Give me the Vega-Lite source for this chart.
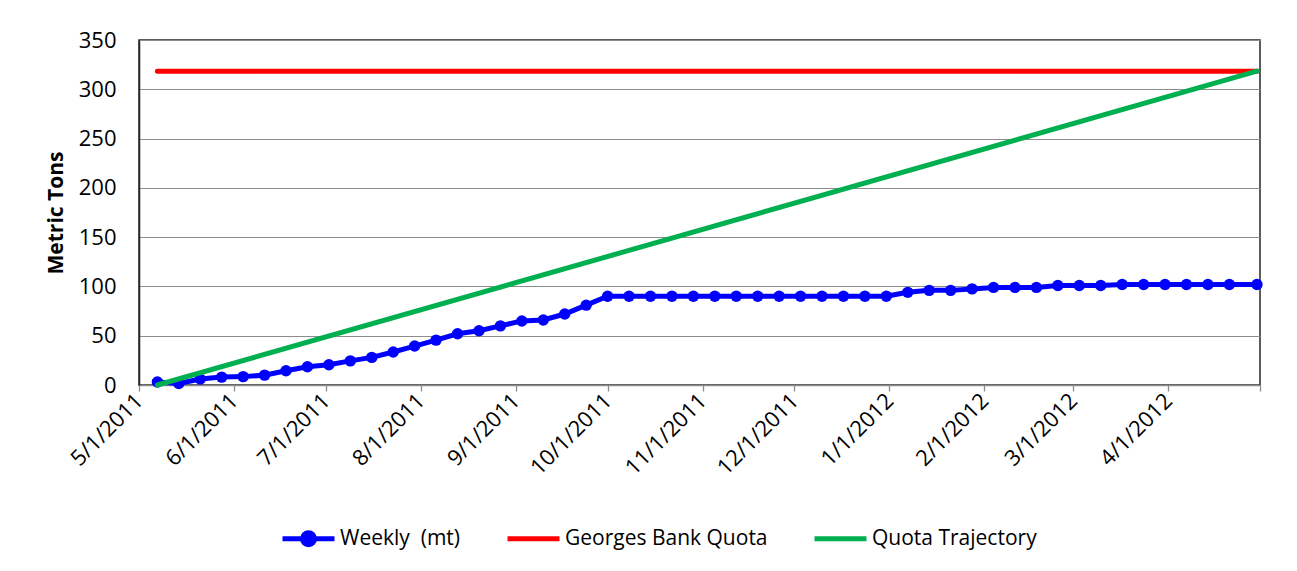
{
  "$schema": "https://vega.github.io/schema/vega-lite/v6.json",
  "autosize": {"type": "none"},
  "width": 1121,
  "height": 345,
  "padding": {"left": 139, "top": 40, "right": 37, "bottom": 186},
  "background": "white",
  "config": {
    "font": "Open Sans",
    "view": {"stroke": "#262626", "strokeWidth": 1.5},
    "axis": {"labelColor": "#000000", "titleColor": "#000000", "gridColor": "#8c8c8c", "gridWidth": 1}
  },
  "datasets": {
    "series": [
      {"date": "2011-05-07", "value": 3, "series": "Weekly \u00a0(mt)"},
      {"date": "2011-05-14", "value": 1.5, "series": "Weekly \u00a0(mt)"},
      {"date": "2011-05-21", "value": 6, "series": "Weekly \u00a0(mt)"},
      {"date": "2011-05-28", "value": 8, "series": "Weekly \u00a0(mt)"},
      {"date": "2011-06-04", "value": 8.5, "series": "Weekly \u00a0(mt)"},
      {"date": "2011-06-11", "value": 10, "series": "Weekly \u00a0(mt)"},
      {"date": "2011-06-18", "value": 14.5, "series": "Weekly \u00a0(mt)"},
      {"date": "2011-06-25", "value": 18.5, "series": "Weekly \u00a0(mt)"},
      {"date": "2011-07-02", "value": 20.5, "series": "Weekly \u00a0(mt)"},
      {"date": "2011-07-09", "value": 24.5, "series": "Weekly \u00a0(mt)"},
      {"date": "2011-07-16", "value": 28, "series": "Weekly \u00a0(mt)"},
      {"date": "2011-07-23", "value": 33.5, "series": "Weekly \u00a0(mt)"},
      {"date": "2011-07-30", "value": 39.5, "series": "Weekly \u00a0(mt)"},
      {"date": "2011-08-06", "value": 45.5, "series": "Weekly \u00a0(mt)"},
      {"date": "2011-08-13", "value": 52, "series": "Weekly \u00a0(mt)"},
      {"date": "2011-08-20", "value": 55, "series": "Weekly \u00a0(mt)"},
      {"date": "2011-08-27", "value": 60, "series": "Weekly \u00a0(mt)"},
      {"date": "2011-09-03", "value": 65, "series": "Weekly \u00a0(mt)"},
      {"date": "2011-09-10", "value": 66, "series": "Weekly \u00a0(mt)"},
      {"date": "2011-09-17", "value": 72, "series": "Weekly \u00a0(mt)"},
      {"date": "2011-09-24", "value": 81, "series": "Weekly \u00a0(mt)"},
      {"date": "2011-10-01", "value": 90, "series": "Weekly \u00a0(mt)"},
      {"date": "2011-10-08", "value": 90, "series": "Weekly \u00a0(mt)"},
      {"date": "2011-10-15", "value": 90, "series": "Weekly \u00a0(mt)"},
      {"date": "2011-10-22", "value": 90, "series": "Weekly \u00a0(mt)"},
      {"date": "2011-10-29", "value": 90, "series": "Weekly \u00a0(mt)"},
      {"date": "2011-11-05", "value": 90, "series": "Weekly \u00a0(mt)"},
      {"date": "2011-11-12", "value": 90, "series": "Weekly \u00a0(mt)"},
      {"date": "2011-11-19", "value": 90, "series": "Weekly \u00a0(mt)"},
      {"date": "2011-11-26", "value": 90, "series": "Weekly \u00a0(mt)"},
      {"date": "2011-12-03", "value": 90, "series": "Weekly \u00a0(mt)"},
      {"date": "2011-12-10", "value": 90, "series": "Weekly \u00a0(mt)"},
      {"date": "2011-12-17", "value": 90, "series": "Weekly \u00a0(mt)"},
      {"date": "2011-12-24", "value": 90, "series": "Weekly \u00a0(mt)"},
      {"date": "2011-12-31", "value": 90, "series": "Weekly \u00a0(mt)"},
      {"date": "2012-01-07", "value": 94, "series": "Weekly \u00a0(mt)"},
      {"date": "2012-01-14", "value": 96, "series": "Weekly \u00a0(mt)"},
      {"date": "2012-01-21", "value": 96, "series": "Weekly \u00a0(mt)"},
      {"date": "2012-01-28", "value": 97.5, "series": "Weekly \u00a0(mt)"},
      {"date": "2012-02-04", "value": 99, "series": "Weekly \u00a0(mt)"},
      {"date": "2012-02-11", "value": 99, "series": "Weekly \u00a0(mt)"},
      {"date": "2012-02-18", "value": 99, "series": "Weekly \u00a0(mt)"},
      {"date": "2012-02-25", "value": 101, "series": "Weekly \u00a0(mt)"},
      {"date": "2012-03-03", "value": 101, "series": "Weekly \u00a0(mt)"},
      {"date": "2012-03-10", "value": 101, "series": "Weekly \u00a0(mt)"},
      {"date": "2012-03-17", "value": 102, "series": "Weekly \u00a0(mt)"},
      {"date": "2012-03-24", "value": 102, "series": "Weekly \u00a0(mt)"},
      {"date": "2012-03-31", "value": 102, "series": "Weekly \u00a0(mt)"},
      {"date": "2012-04-07", "value": 102, "series": "Weekly \u00a0(mt)"},
      {"date": "2012-04-14", "value": 102, "series": "Weekly \u00a0(mt)"},
      {"date": "2012-04-21", "value": 102, "series": "Weekly \u00a0(mt)"},
      {"date": "2012-04-30", "value": 102, "series": "Weekly \u00a0(mt)"},
      {"date": "2011-05-07", "value": 318.4, "series": "Georges Bank Quota"},
      {"date": "2012-04-30", "value": 318.4, "series": "Georges Bank Quota"},
      {"date": "2011-05-07", "value": 0, "series": "Quota Trajectory"},
      {"date": "2012-04-30", "value": 318.4, "series": "Quota Trajectory"}
    ]
  },
  "data": {"name": "series"},
  "encoding": {
    "x": {
      "field": "date",
      "type": "temporal",
      "scale": {"type": "utc", "domain": [{"year": 2011, "month": 5, "date": 1, "utc": true}, {"year": 2012, "month": 5, "date": 1, "utc": true}]},
      "axis": {
        "title": null,
        "grid": false,
        "format": "%-m/%-d/%Y",
        "values": [
          {"year": 2011, "month": 5, "date": 1, "utc": true},
          {"year": 2011, "month": 6, "date": 1, "utc": true},
          {"year": 2011, "month": 7, "date": 1, "utc": true},
          {"year": 2011, "month": 8, "date": 1, "utc": true},
          {"year": 2011, "month": 9, "date": 1, "utc": true},
          {"year": 2011, "month": 10, "date": 1, "utc": true},
          {"year": 2011, "month": 11, "date": 1, "utc": true},
          {"year": 2011, "month": 12, "date": 1, "utc": true},
          {"year": 2012, "month": 1, "date": 1, "utc": true},
          {"year": 2012, "month": 2, "date": 1, "utc": true},
          {"year": 2012, "month": 3, "date": 1, "utc": true},
          {"year": 2012, "month": 4, "date": 1, "utc": true},
          {"year": 2012, "month": 5, "date": 1, "utc": true}
        ],
        "labelExpr": "utcyear(datum.value) == 2012 && utcmonth(datum.value) == 4 ? '' : datum.label",
        "labelAngle": -45,
        "labelAlign": "right",
        "labelBaseline": "middle",
        "labelFontSize": 22,
        "labelPadding": 6,
        "labelOverlap": false,
        "labelFlush": false,
        "tickSize": 6,
        "tickColor": "#8c8c8c",
        "tickWidth": 1.3,
        "domainColor": "#8c8c8c",
        "domainWidth": 1.5
      }
    },
    "y": {
      "field": "value",
      "type": "quantitative",
      "scale": {"domain": [0, 350]},
      "axis": {
        "title": "Metric Tons",
        "titleFontSize": 21,
        "titleFontWeight": "bold",
        "titlePadding": 12,
        "values": [0, 50, 100, 150, 200, 250, 300, 350],
        "ticks": false,
        "labelPadding": 23,
        "labelFontSize": 22,
        "domainColor": "#262626",
        "domainWidth": 1.5
      }
    },
    "color": {
      "field": "series",
      "type": "nominal",
      "scale": {"domain": ["Weekly \u00a0(mt)", "Georges Bank Quota", "Quota Trajectory"], "range": ["#0000FF", "#FF0000", "#00B050"]},
      "legend": {
        "title": null,
        "orient": "none",
        "direction": "horizontal",
        "legendX": 141,
        "legendY": 470,
        "labelFontSize": 21,
        "labelLimit": 500,
        "labelColor": "#000000",
        "symbolSize": 2704,
        "symbolStrokeWidth": 5,
        "symbolType": "M-1,0H1",
        "labelOffset": 3,
        "columnPadding": 36,
        "encode": {
          "symbols": {
            "update": {
              "shape": {"signal": "indexof(datum.value, 'Weekly') == 0 ? 'M-1,0H1M0.23,0A0.23,0.23,0,1,1,-0.23,0A0.23,0.23,0,1,1,0.23,0Z' : 'M-1,0H1M0,-0.23L0,-0.23M0,0.23L0,0.23'"},
              "fill": {"signal": "indexof(datum.value, 'Weekly') == 0 ? '#0000FF' : 'transparent'"},
              "strokeWidth": {"value": 5},
              "opacity": {"value": 1}
            }
          }
        }
      }
    }
  },
  "layer": [
    {
      "transform": [{"filter": "indexof(datum.series, 'Weekly') == 0"}],
      "mark": {"type": "point", "filled": true, "size": 130, "opacity": 1}
    },
    {
      "mark": {"type": "line", "strokeWidth": 5, "strokeCap": "round"}
    }
  ]
}
